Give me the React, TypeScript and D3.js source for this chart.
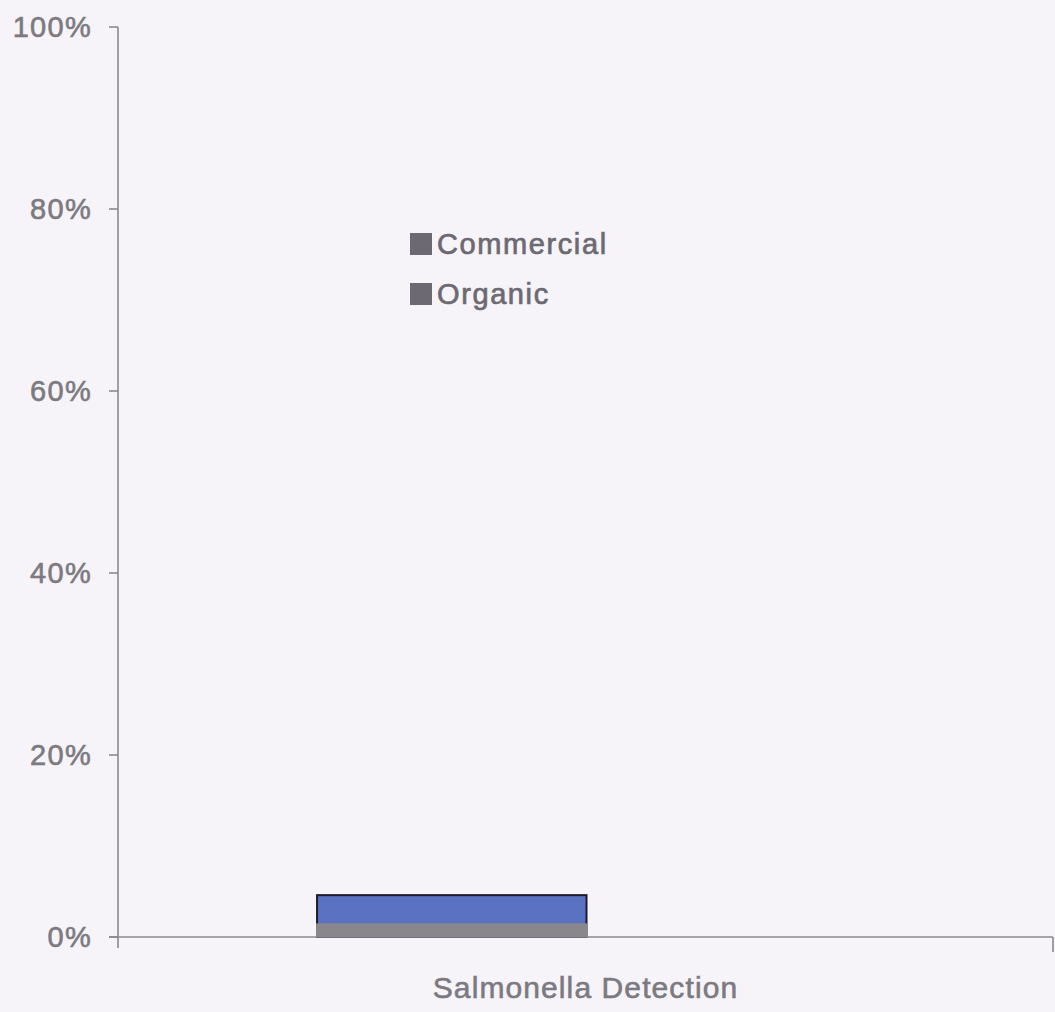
import React from "react";
import * as d3 from "d3";

const categories = ["Salmonella Detection"];
const seriesNames = ["Commercial", "Organic"];
const commercialValues = [0.046];
const organicValues = [0.015];
const yTicks = [0, 0.2, 0.4, 0.6, 0.8, 1.0];

const W = 1055;
const H = 1012;
const left = 118;
const right = 1053;
const top = 27;
const bottom = 937;

export default function App() {
  const x = d3.scaleBand<string>().domain(categories).range([left, right]).paddingInner(0).paddingOuter(0);
  const y = d3.scaleLinear().domain([0, 1]).range([bottom, top]);
  const sub = d3.scaleBand<string>().domain(seriesNames).range([0, x.bandwidth()]).paddingOuter(0.735).paddingInner(0);
  const fmt = d3.format(".0%");
  const textCol = "#7c7a81";
  const axisCol = "#8b898f";
  const font = "'Liberation Sans', Arial, sans-serif";
  const barW = sub.bandwidth();

  return (
    <svg width={W} height={H} style={{ position: "absolute", left: 0, top: 0, display: "block", background: "#f6f4f8" }}>
      <rect x={0} y={0} width={W} height={H} fill="#f6f4f8" />
      {/* y axis */}
      <line x1={left} x2={left} y1={y(1)} y2={bottom + 11} stroke={axisCol} strokeWidth={1.6} />
      {yTicks.map((t) => (
        <g key={t}>
          <line x1={left - 9} x2={left} y1={y(t)} y2={y(t)} stroke={axisCol} strokeWidth={1.6} />
          <text
            x={92}
            y={y(t) + 10}
            textAnchor="end"
            fontFamily={font}
            fontSize={29}
            letterSpacing={1.3}
            fill={textCol}
            stroke={textCol}
            strokeWidth={0.6}
          >
            {fmt(t)}
          </text>
        </g>
      ))}
      {/* bars */}
      {categories.map((c, i) => (
        <g key={c}>
          <rect
            x={(x(c) as number) + (sub("Commercial") as number) + 1}
            y={y(commercialValues[i])}
            width={barW}
            height={bottom - y(commercialValues[i])}
            fill="#5b71c1"
            stroke="#1b1b2c"
            strokeWidth={2}
          />
          <rect
            x={(x(c) as number) + (sub("Commercial") as number)}
            y={y(organicValues[i])}
            width={barW + 2}
            height={bottom - y(organicValues[i])}
            fill="#89878c"
          />
          <text
            x={(x(c) as number) + x.bandwidth() / 2}
            y={998}
            textAnchor="middle"
            fontFamily={font}
            fontSize={30}
            letterSpacing={1.1}
            fill={textCol}
            stroke={textCol}
            strokeWidth={0.6}
          >
            {c}
          </text>
        </g>
      ))}
      {/* x axis */}
      <line x1={left - 9} x2={right} y1={bottom} y2={bottom} stroke={axisCol} strokeWidth={1.6} />
      <line x1={right} x2={right} y1={bottom} y2={bottom + 15} stroke={axisCol} strokeWidth={1.6} />
      {/* legend */}
      {seriesNames.map((s, i) => (
        <g key={s} transform={`translate(410, ${233 + i * 50})`}>
          <rect x={0} y={0} width={22} height={22} fill="#6c6972" />
          <text
            x={27}
            y={21}
            fontFamily={font}
            fontSize={29}
            letterSpacing={1.6}
            fill="#6c6972"
            stroke="#6c6972"
            strokeWidth={0.7}
          >
            {s}
          </text>
        </g>
      ))}
    </svg>
  );
}
